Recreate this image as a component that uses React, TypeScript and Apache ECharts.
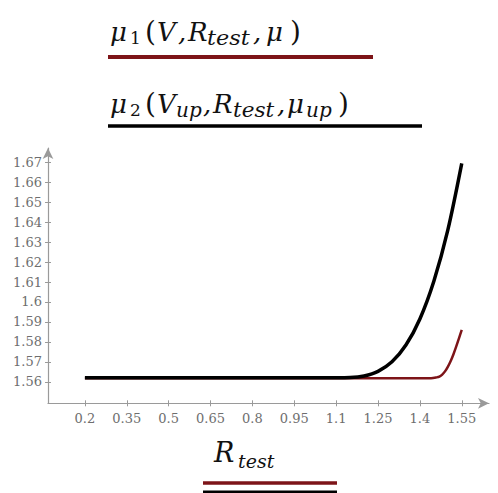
import React, { useEffect, useRef } from "react";
import * as echarts from "echarts";

// Tick labels
const xTicks = [0.2, 0.35, 0.5, 0.65, 0.8, 0.95, 1.1, 1.25, 1.4, 1.55];
const yTicks = [1.56, 1.57, 1.58, 1.59, 1.6, 1.61, 1.62, 1.63, 1.64, 1.65, 1.66, 1.67];

// mu1(V, R_test, mu) — dark red curve
const r1 = [0.2, 0.8, 1.3, 1.44, 1.46, 1.47, 1.48, 1.49, 1.5, 1.51, 1.52, 1.53, 1.54, 1.55];
const mu1 = [1.5618, 1.5618, 1.5618, 1.5618, 1.5622, 1.5626, 1.5636, 1.5652, 1.5675, 1.5703, 1.5737, 1.5776, 1.5818, 1.586];

// mu2(V_up, R_test, mu_up) — black curve
const r2 = [0.2, 0.8, 1.05, 1.1, 1.15, 1.2, 1.25, 1.3, 1.35, 1.4, 1.45, 1.5, 1.55];
const mu2 = [1.562, 1.562, 1.562, 1.562, 1.5621, 1.5629, 1.5652, 1.57, 1.5784, 1.5915, 1.6104, 1.636, 1.6695];

const RED = "#7d1418";
const MATH = '"DejaVu Serif", serif';

const W = 498;
const H = 493;

function t(text: string, x: number, y: number, size: number, italic = true, sx = 1) {
  return {
    type: "text",
    x,
    y,
    scaleX: sx,
    silent: true,
    style: {
      text,
      fill: "#111",
      font: `${italic ? "italic " : ""}${size}px ${MATH}`,
      align: "left",
      verticalAlign: "middle",
    },
  };
}

export default function App() {
  const ref = useRef<HTMLDivElement>(null);
  useEffect(() => {
    const chart = echarts.init(ref.current!, null, { renderer: "svg" });
    const xMin = 0.0678, xMax = 1.6476, yMin = 1.5492, yMax = 1.6772;
    const axisColor = "#9a9a9a";
    const labelStyle = { color: "#6e6e6e", fontFamily: MATH, fontSize: 13 };
    chart.setOption({
      animation: false,
      backgroundColor: "#fff",
      grid: { left: 48, right: 9, top: 148, bottom: 89.7, containLabel: false },
      xAxis: [
        {
          type: "value",
          min: xMin,
          max: xMax,
          axisLine: { show: true, onZero: false, lineStyle: { color: axisColor, width: 1.2 }, symbol: ["none", "arrow"], symbolSize: [8, 11] },
          axisTick: { show: true, length: 3, customValues: xTicks, lineStyle: { color: axisColor } },
          axisLabel: { show: true, margin: 9, customValues: xTicks, ...labelStyle, formatter: (v: number) => String(v) },
          splitLine: { show: false },
        },
        {
          type: "value",
          min: xMin,
          max: xMax,
          position: "bottom",
          axisLine: { show: false },
          axisTick: { show: true, inside: true, length: 3, customValues: xTicks, lineStyle: { color: axisColor } },
          axisLabel: { show: false },
          splitLine: { show: false },
        },
      ],
      yAxis: [
        {
          type: "value",
          min: yMin,
          max: yMax,
          axisLine: { show: true, onZero: false, lineStyle: { color: axisColor, width: 1.2 }, symbol: ["none", "arrow"], symbolSize: [8, 11] },
          axisTick: { show: true, length: 3, customValues: yTicks, lineStyle: { color: axisColor } },
          axisLabel: { show: true, margin: 6, customValues: yTicks, ...labelStyle, formatter: (v: number) => String(v) },
          splitLine: { show: false },
        },
        {
          type: "value",
          min: yMin,
          max: yMax,
          position: "left",
          axisLine: { show: false },
          axisTick: { show: true, inside: true, length: 3, customValues: yTicks, lineStyle: { color: axisColor } },
          axisLabel: { show: false },
          splitLine: { show: false },
        },
      ],
      series: [
        {
          type: "line",
          data: r1.map((x, i) => [x, mu1[i]]),
          showSymbol: false,
          smooth: 0.3,
          lineStyle: { color: RED, width: 2.5 },
          z: 2,
        },
        {
          type: "line",
          data: r2.map((x, i) => [x, mu2[i]]),
          showSymbol: false,
          smooth: 0.3,
          lineStyle: { color: "#000", width: 3.5 },
          z: 3,
        },
      ],
      graphic: [
        // Legend 1: μ1(V, R_test, μ)
        t("μ", 110, 32, 26),
        t("1", 130, 38, 17, false),
        t("(", 145, 31, 28, false),
        t("V", 157, 32, 26),
        t(",", 178, 32, 26),
        t("R", 188, 32, 26),
        t("test", 207, 38, 20, true, 1.12),
        t(",", 253, 32, 26),
        t("μ", 266, 32, 26),
        t(")", 290, 31, 28, false),
        { type: "line", shape: { x1: 108, y1: 57, x2: 373, y2: 57 }, style: { stroke: RED, lineWidth: 4 }, silent: true },
        // Legend 2: μ2(V_up, R_test, μ_up)
        t("μ", 110, 104, 26),
        t("2", 130, 110, 17, false),
        t("(", 145, 103, 28, false),
        t("V", 157, 104, 26),
        t("up", 176, 110, 20, true, 1.0),
        t(",", 203, 104, 26),
        t("R", 213, 104, 26),
        t("test", 233, 110, 20, true, 1.08),
        t(",", 277, 104, 26),
        t("μ", 287, 104, 26),
        t("up", 306, 110, 20, true, 1.0),
        t(")", 338, 103, 28, false),
        { type: "line", shape: { x1: 108, y1: 126, x2: 422, y2: 126 }, style: { stroke: "#000", lineWidth: 3.5 }, silent: true },
        // X axis title R_test
        t("R", 214, 452.5, 27),
        t("test", 238, 461, 19),
        { type: "line", shape: { x1: 203, y1: 483, x2: 337, y2: 483 }, style: { stroke: RED, lineWidth: 3.5 }, silent: true },
        { type: "line", shape: { x1: 203, y1: 492, x2: 337, y2: 492 }, style: { stroke: "#000", lineWidth: 3 }, silent: true },
      ],
    });
    return () => chart.dispose();
  }, []);
  return <div ref={ref} style={{ position: "fixed", left: 0, top: 0, width: W, height: H, background: "#fff" }} />;
}
